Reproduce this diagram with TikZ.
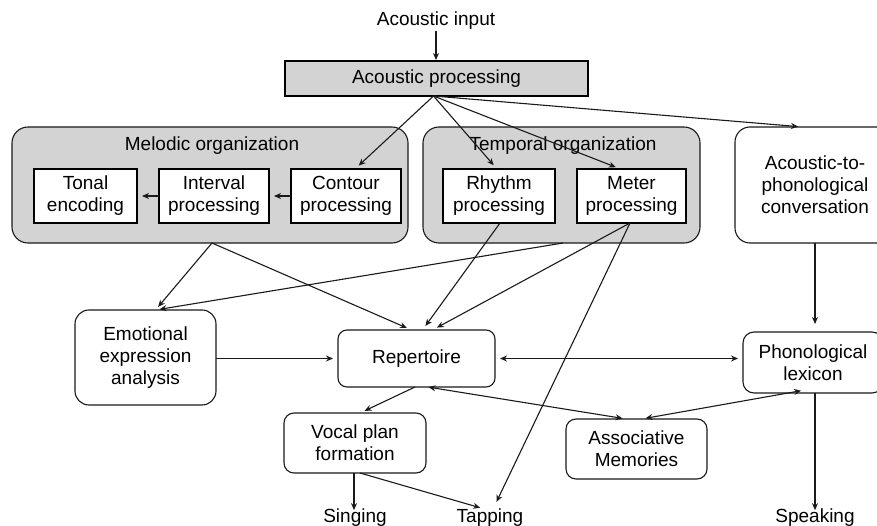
\documentclass[tikz,border=0pt]{standalone}
\usepackage{fontspec}
\setmainfont{Liberation Sans}
\usetikzlibrary{arrows.meta,calc}
\definecolor{grpgray}{HTML}{D3D3D3}
\definecolor{linec}{HTML}{1A1A1A}
\begin{document}
\begin{tikzpicture}[x=1pt,y=-1pt,
  font=\fontsize{19}{22}\selectfont,
  every node/.style={align=center,inner sep=0pt,outer sep=0pt},
  grp/.style={draw=linec,fill=grpgray,rounded corners=16pt,line width=1.1pt},
  inbox/.style={draw=black,fill=white,line width=1.4pt},
  rbox/.style={draw=linec,fill=white,rounded corners=11pt,line width=1.1pt},
  conn/.style={draw=linec,line width=1.1pt,-{Stealth[length=7pt,width=6pt]}},
  dconn/.style={draw=linec,line width=1.1pt,{Stealth[length=7pt,width=6pt]}-{Stealth[length=7pt,width=6pt]}}]
\useasboundingbox (0,0) rectangle (877,526);
\clip (0,0) rectangle (877,526);

% groups
\node[grp,minimum width=396pt,minimum height=116pt] (mel) at (210,185) {};
\node[grp,minimum width=277pt,minimum height=116pt] (tem) at (561.5,185) {};
\node (meltitle) at (212,146) {Melodic organization};
\node (temtitle) at (563,146) {Temporal organization};

% top
\node (input) at (436,21) {Acoustic input};
\node[draw=black,fill=grpgray,line width=1.4pt,minimum width=303pt,minimum height=35pt] (ap) at (436.5,78.5) {Acoustic processing};

% inner boxes
\node[inbox,minimum width=103pt,minimum height=54pt] (tonal) at (85.5,196) {Tonal\\encoding};
\node[inbox,minimum width=110pt,minimum height=54pt] (interval) at (214,196) {Interval\\processing};
\node[inbox,minimum width=110pt,minimum height=54pt] (contour) at (346,196) {Contour\\processing};
\node[inbox,minimum width=112pt,minimum height=54pt] (rhythm) at (499,196) {Rhythm\\processing};
\node[inbox,minimum width=109pt,minimum height=54pt] (meter) at (631.5,196) {Meter\\processing};

% rounded boxes
\node[rbox,rounded corners=15pt,minimum width=160pt,minimum height=116pt] (a2p) at (815,185) {Acoustic-to-\\phonological\\conversation};
\node[rbox,rounded corners=14pt,minimum width=141pt,minimum height=95pt] (emo) at (145.5,357.5) {Emotional\\expression\\analysis};
\node[rbox,rounded corners=9pt,minimum width=157pt,minimum height=57pt] (rep) at (416.5,358.5) {Repertoire};
\node[rbox,rounded corners=11pt,minimum width=140pt,minimum height=61pt] (phon) at (813,362.5) {Phonological\\lexicon};
\node[rbox,rounded corners=10pt,minimum width=142pt,minimum height=60pt] (vocal) at (355,443) {Vocal plan\\formation};
\node[rbox,rounded corners=10pt,minimum width=141pt,minimum height=60pt] (assoc) at (636.5,449) {Associative\\Memories};

% outputs
\node (singing) at (355,518) {Singing};
\node (tapping) at (490,518) {Tapping};
\node (speaking) at (815,518) {Speaking};

% connectors
\draw[conn,shorten >=1pt] (input.south |- 0,31) -- (input.south |- ap.north);
\draw[conn,shorten >=5pt] ([xshift=-3pt]ap.south) -- ([xshift=9pt]contour.north);
\draw[conn,shorten >=5pt] ([xshift=-3pt]ap.south) -- ([xshift=-2pt]rhythm.north);
\draw[conn,shorten >=5pt] ([xshift=-3pt]ap.south) -- ([xshift=-11pt]meter.north);
\draw[conn,shorten >=5pt] ([xshift=-3pt]ap.south) -- ([xshift=-12pt]a2p.north);

\draw[conn,shorten >=5pt] (contour.west) -- (interval.east);
\draw[conn,shorten >=5pt] (interval.west) -- (tonal.east);

\draw[conn,shorten >=4pt] ([xshift=2pt]mel.south) -- ([xshift=10pt]emo.north);
\draw[conn,shorten >=5pt] ([xshift=2pt]mel.south) -- ([xshift=-5pt]rep.north);
\draw[conn,shorten >=4pt] ([xshift=1.5pt]tem.south) -- ([xshift=10pt]emo.north);
\draw[conn,shorten >=5pt] ([xshift=1pt]rhythm.south) -- ([xshift=6pt]rep.north);
\draw[conn,shorten >=5pt] ([xshift=-1.5pt]meter.south) -- ([xshift=16pt]rep.north);
\draw[conn,shorten >=8pt] ([xshift=-1.5pt]meter.south) -- ([xshift=3pt]tapping.north);

\draw[conn,shorten >=5pt] (emo.east |- rep.west) -- (rep.west);
\draw[dconn,shorten >=5pt,shorten <=5pt] (rep.east) -- (rep.east -| phon.west);
\draw[conn,shorten >=8pt] (a2p.south) -- (a2p.south |- phon.north);
\draw[conn,shorten >=2pt] (speaking.north |- phon.south) -- ([yshift=-3pt]speaking.north);

\draw[conn,shorten >=5pt] ([xshift=-1.5pt]rep.south) -- ([xshift=5pt]vocal.north);
\draw[dconn,shorten >=4pt,shorten <=1pt] ([xshift=11pt]rep.south) -- ([xshift=-10pt]assoc.north);
\draw[dconn,shorten >=4pt,shorten <=4pt] ([xshift=-8pt,yshift=3pt]phon.south) -- ([xshift=5pt]assoc.north);

\draw[conn,shorten >=2pt] ([xshift=-1pt]vocal.south) -- ([xshift=-1pt,yshift=-3pt]singing.north);
\draw[conn,shorten >=5pt] ([xshift=5pt]vocal.south) -- ([xshift=-5pt]tapping.north);
\end{tikzpicture}
\end{document}
